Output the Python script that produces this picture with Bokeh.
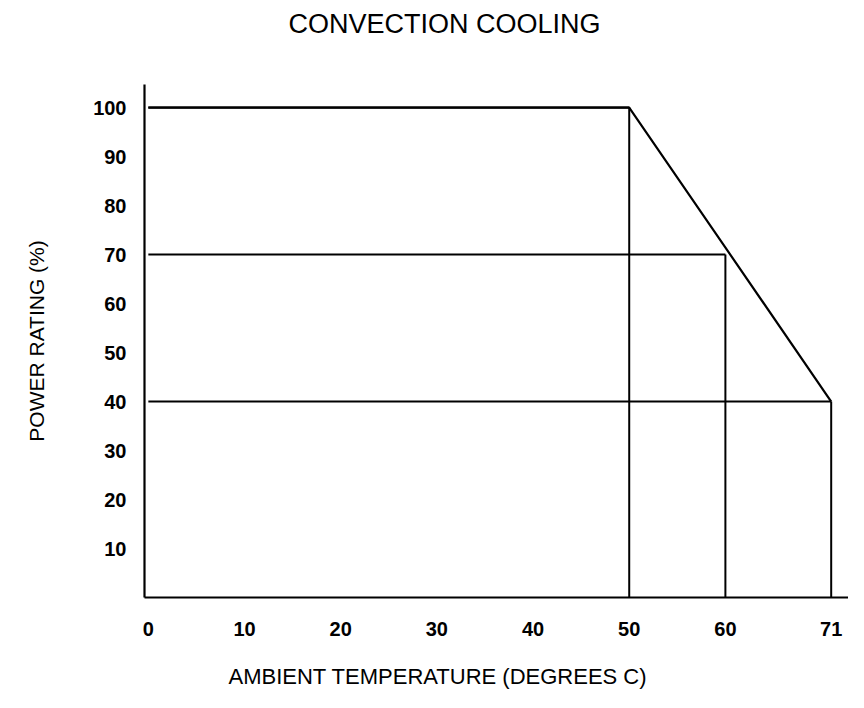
from bokeh.plotting import figure
from bokeh.models import Title, FixedTicker
from bokeh.embed import file_html
from bokeh.resources import INLINE

# Derating curve (ambient temperature °C -> power rating %)
curve_temp = [0, 50, 71]
curve_power = [100, 100, 40]

# Reference points
ref_temp = [50, 60, 71]
ref_power = [100, 70, 40]

x_ticks = [0, 10, 20, 30, 40, 50, 60, 71]
y_ticks = [10, 20, 30, 40, 50, 60, 70, 80, 90, 100]

title_text = "CONVECTION COOLING"
x_label_text = "AMBIENT TEMPERATURE (DEGREES C)"
y_label_text = "POWER RATING (%)"

FONT = "Liberation Sans"

p = figure(width=848, height=692, x_range=(-0.4, 72.8), y_range=(0, 104.7),
           output_backend="svg", toolbar_location=None,
           min_border_left=144, min_border_right=0,
           min_border_top=84, min_border_bottom=95)
p.title = Title(text=title_text, align="left", offset=144, standoff=0,
                vertical_align="bottom",
                text_font=FONT, text_font_size="27px", text_font_style="normal",
                text_color="black")
# empty spacer between the title and the plot area
p.add_layout(Title(text=" ", text_font_size="1px", standoff=43), "above")

p.outline_line_color = None
p.xgrid.visible = False
p.ygrid.visible = False
p.background_fill_color = "white"
p.border_fill_color = "white"

# derating curve
p.line(curve_temp, curve_power, line_color="black", line_width=2.2)
# horizontal guides from the axis to each point
p.segment(x0=[0] * len(ref_temp), y0=ref_power, x1=ref_temp, y1=ref_power,
          line_color="black", line_width=2)
# vertical guides from the axis to each point
p.segment(x0=ref_temp, y0=[0] * len(ref_temp), x1=ref_temp, y1=ref_power,
          line_color="black", line_width=2)

for ax in (p.xaxis[0], p.yaxis[0]):
    ax.axis_line_color = "black"
    ax.axis_line_width = 2.2
    ax.major_tick_in = 0
    ax.major_tick_out = 0
    ax.minor_tick_in = 0
    ax.minor_tick_out = 0
    ax.major_label_text_font = FONT
    ax.major_label_text_font_size = "20px"
    ax.major_label_text_font_style = "bold"
    ax.major_label_text_color = "black"

p.xaxis[0].ticker = FixedTicker(ticks=x_ticks)
p.yaxis[0].ticker = FixedTicker(ticks=y_ticks)
p.xaxis[0].major_label_standoff = 24
p.yaxis[0].major_label_standoff = 18

p.yaxis[0].axis_label = y_label_text
p.yaxis[0].axis_label_text_font = FONT
p.yaxis[0].axis_label_text_font_size = "21px"
p.yaxis[0].axis_label_text_font_style = "normal"
p.yaxis[0].axis_label_text_color = "black"
p.yaxis[0].axis_label_standoff = 42

# spacer between the tick labels and the x caption, then the caption
p.add_layout(Title(text=" ", text_font_size="1px", standoff=20), "below")
p.add_layout(Title(text=x_label_text, align="left", offset=84, standoff=0,
                   vertical_align="bottom",
                   text_font=FONT, text_font_size="22px", text_font_style="normal",
                   text_color="black"), "below")

open("out.html", "w").write(file_html(p, INLINE))
